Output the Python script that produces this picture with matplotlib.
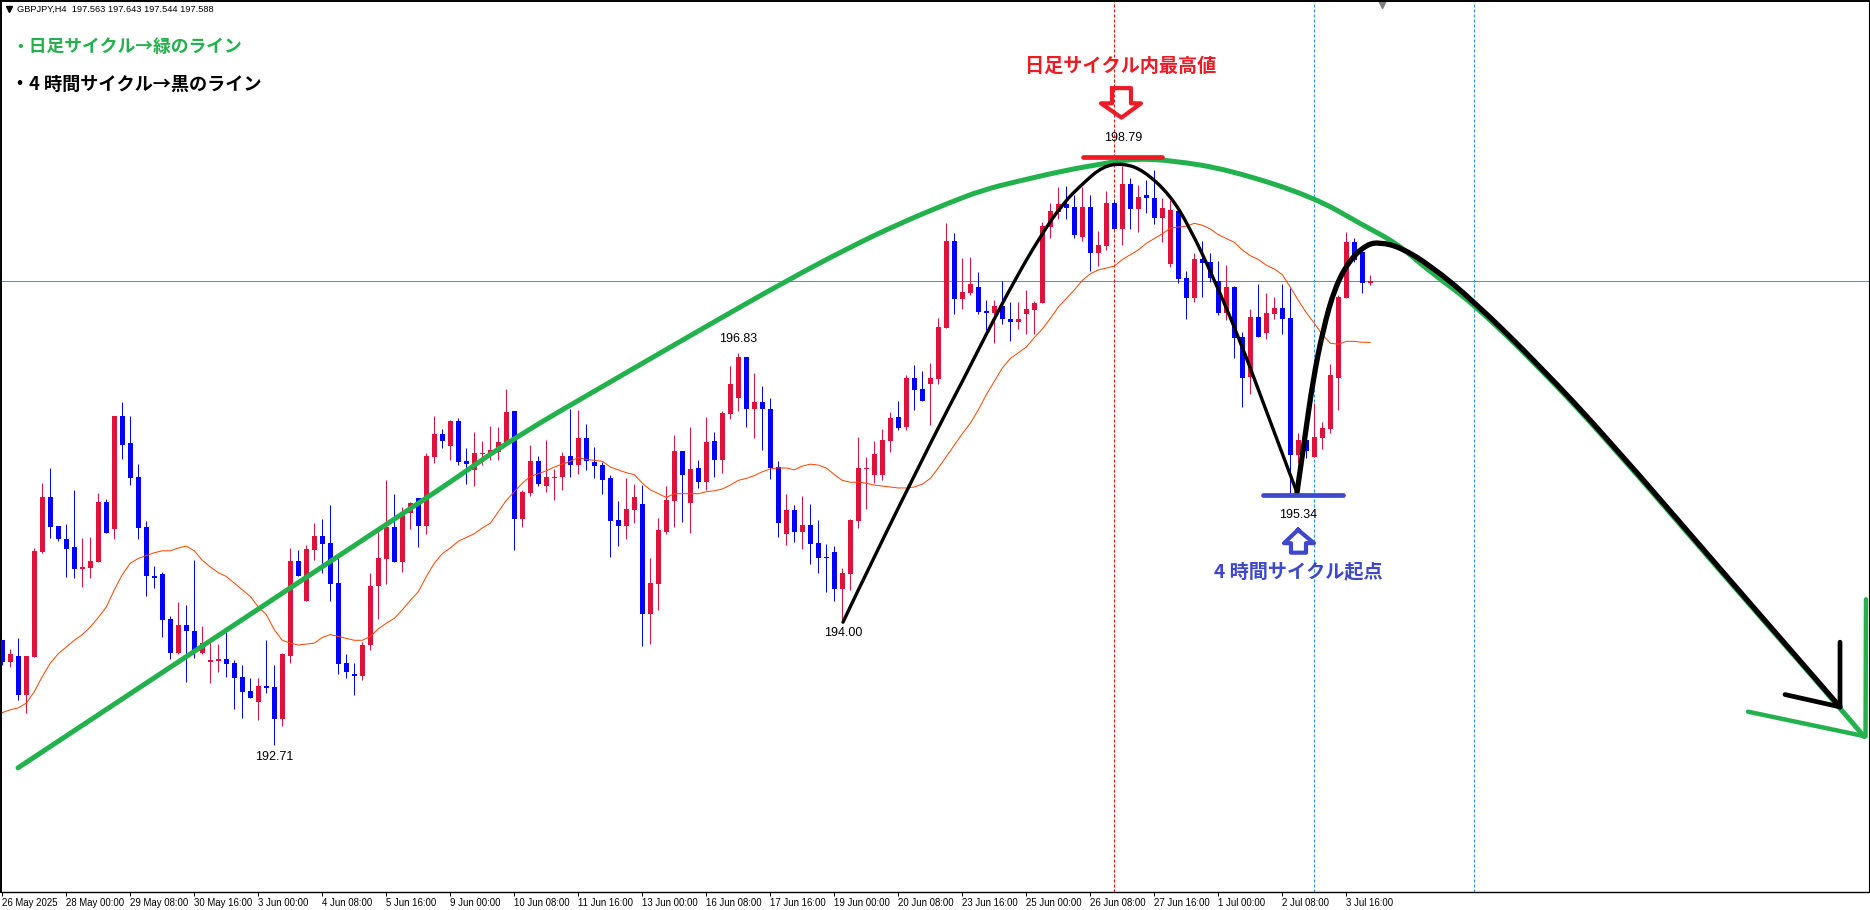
import numpy as np
import matplotlib
matplotlib.use("Agg")
from matplotlib import pyplot as plt
from matplotlib.path import Path
from matplotlib.patches import PathPatch

# GBPJPY H4 candles
opens = [193.81,193.58,193.65,193.23,193.63,194.74,195.31,195.01,194.87,194.79,194.56,194.57,194.63,195.26,194.98,196.17,
195.88,195.52,195.00,194.49,194.51,194.03,193.68,193.97,193.91,193.68,193.58,193.59,193.61,193.57,193.42,193.28,
193.16,193.33,193.32,192.98,193.65,194.64,194.22,194.76,194.91,194.83,194.41,193.57,193.46,193.43,193.76,194.38,
194.66,195.00,194.63,195.15,195.30,195.01,195.74,195.98,195.85,196.11,195.69,195.60,195.77,195.77,195.79,195.88,
196.22,195.08,195.36,195.69,195.43,195.51,195.52,195.75,195.65,195.94,195.68,195.65,195.51,195.07,195.01,195.18,
195.24,194.09,194.40,194.95,195.27,195.80,195.25,195.62,195.47,195.90,195.70,196.19,196.35,196.79,196.24,196.31,
196.24,195.63,194.93,195.18,194.95,195.02,194.83,194.68,194.74,194.35,194.51,195.06,195.61,195.55,195.55,195.90,
196.16,196.05,196.56,196.45,196.50,196.55,197.09,198.00,197.40,197.46,197.52,197.27,197.25,197.32,197.19,197.15,
197.24,197.28,197.35,198.15,198.31,198.39,198.36,198.05,198.36,197.88,197.95,198.40,198.13,198.60,198.34,198.49,
198.46,198.25,197.76,198.32,197.62,197.41,197.81,197.78,197.58,197.25,197.52,197.00,196.58,197.21,197.04,197.24,
197.30,197.20,195.76,195.91,195.74,195.93,196.03,196.57,197.41,197.99,197.89,197.563]
highs = [193.81,193.72,193.83,193.65,194.78,195.46,195.62,195.01,195.03,195.39,194.88,194.89,195.36,195.29,196.17,196.31,
196.17,195.66,195.06,194.59,194.53,194.07,194.21,194.18,194.65,193.96,193.81,193.77,193.92,193.60,193.55,193.41,
193.41,193.81,193.55,193.68,194.78,194.76,194.81,195.04,195.08,195.23,194.69,193.67,193.57,193.79,194.52,194.97,
195.49,195.35,195.21,195.26,195.30,195.78,196.17,196.03,196.12,196.14,195.83,196.00,195.90,196.06,196.05,196.45,
196.22,195.39,195.86,195.75,195.91,195.61,195.79,196.24,196.23,196.08,195.84,195.68,195.55,195.27,195.51,195.45,
195.44,194.67,195.09,195.43,195.97,195.80,196.05,195.70,196.16,196.00,196.22,196.69,196.83,196.79,196.62,196.48,
196.36,195.69,195.35,195.23,195.33,195.24,195.07,194.82,194.80,194.57,195.08,195.95,195.73,195.90,196.03,196.21,
196.32,196.60,196.70,196.64,196.72,197.20,198.19,198.09,197.83,197.84,197.68,197.38,197.38,197.58,197.36,197.36,
197.49,197.37,198.20,198.40,198.57,198.58,198.49,198.57,198.49,198.11,198.53,198.44,198.79,198.67,198.59,198.64,
198.75,198.46,198.43,198.36,197.69,197.88,198.00,197.88,197.79,197.75,197.53,197.05,197.29,197.55,197.46,197.42,
197.55,197.51,195.99,195.98,196.30,196.10,196.71,197.44,198.10,198.04,197.91,197.643]
lows = [193.55,193.53,193.18,193.05,193.63,194.73,194.88,194.85,194.47,194.46,194.37,194.46,194.63,194.94,194.87,195.71,
195.44,194.87,194.27,194.36,193.84,193.61,193.67,193.37,193.62,193.67,193.36,193.48,193.42,193.09,192.99,193.20,
192.97,193.26,192.71,192.91,193.57,194.49,194.22,194.65,194.52,194.22,193.46,193.41,193.23,193.39,193.71,194.03,
194.40,194.63,194.53,194.98,194.79,194.93,195.67,195.83,195.70,195.65,195.45,195.43,195.65,195.70,195.70,195.88,
194.76,195.00,195.33,195.43,195.37,195.28,195.39,195.52,195.56,195.60,195.51,195.35,194.69,194.80,194.87,195.04,
193.75,193.77,194.13,194.93,195.00,195.05,194.94,195.41,195.39,195.53,195.57,196.13,196.22,196.05,195.94,195.81,
195.50,194.89,194.81,194.84,194.77,194.61,194.52,194.32,194.22,194.00,194.34,194.99,195.19,195.46,195.49,195.79,
196.02,196.02,196.23,196.32,196.07,196.50,197.09,197.24,197.29,197.44,197.24,197.07,196.93,197.13,196.95,197.08,
197.03,197.03,197.35,198.04,198.23,198.24,198.04,198.00,197.69,197.74,197.91,198.13,197.96,198.13,198.10,198.30,
198.18,197.99,197.73,197.56,197.19,197.36,197.42,197.57,197.23,197.17,196.77,196.26,196.40,197.00,196.97,197.18,
197.03,195.34,195.67,195.72,195.74,195.82,195.99,196.23,197.41,197.78,197.46,197.544]
closes = [193.58,193.67,193.23,193.64,194.75,195.31,195.00,194.87,194.77,194.56,194.58,194.64,195.26,194.94,196.17,195.86,
195.51,194.99,194.48,194.46,194.02,193.68,193.97,193.91,193.71,193.78,193.60,193.61,193.56,193.41,193.27,193.20,
193.33,193.31,192.98,193.67,194.64,194.49,194.77,194.91,194.82,194.40,193.56,193.48,193.43,193.76,194.38,194.67,
195.00,194.63,195.15,195.25,195.01,195.75,195.98,195.90,196.11,195.68,195.66,195.78,195.78,195.81,195.89,196.21,
195.08,195.37,195.69,195.45,195.52,195.53,195.75,195.65,195.94,195.69,195.64,195.49,195.06,195.01,195.19,195.31,
194.09,194.41,194.97,195.28,195.80,195.55,195.61,195.47,195.89,195.70,196.20,196.50,196.79,196.24,196.31,196.24,
195.62,195.04,195.18,194.95,195.02,194.82,194.67,194.67,194.35,194.52,195.07,195.62,195.62,195.77,195.91,196.14,
196.04,196.56,196.44,196.32,196.56,197.10,198.00,197.40,197.47,197.55,197.26,197.25,197.32,197.18,197.15,197.19,
197.29,197.35,198.16,198.32,198.39,198.35,198.07,198.36,197.88,197.96,198.40,198.13,198.60,198.34,198.47,198.46,
198.25,198.35,198.33,197.61,197.41,197.81,197.77,197.62,197.25,197.52,196.99,196.57,197.21,197.00,197.25,197.30,
197.19,195.76,195.91,195.80,195.95,196.04,196.60,197.42,197.99,197.80,197.56,197.588]

# orange moving average, one value per bar
ma = [193.05,193.08,193.10,193.15,193.27,193.43,193.57,193.67,193.74,193.81,193.87,193.95,194.05,194.16,194.34,194.50,
194.62,194.67,194.70,194.73,194.75,194.75,194.78,194.80,194.75,194.65,194.58,194.52,194.48,194.41,194.34,194.27,
194.16,194.08,193.92,193.81,193.78,193.76,193.77,193.78,193.84,193.87,193.85,193.83,193.81,193.81,193.85,193.93,
193.99,194.04,194.13,194.23,194.32,194.48,194.62,194.72,194.78,194.85,194.89,194.93,194.99,195.04,195.16,195.28,
195.37,195.46,195.53,195.56,195.59,195.63,195.66,195.69,195.73,195.71,195.70,195.69,195.63,195.60,195.57,195.55,
195.46,195.39,195.35,195.31,195.35,195.35,195.35,195.35,195.37,195.38,195.40,195.44,195.49,195.51,195.54,195.58,
195.61,195.62,195.62,195.60,195.64,195.66,195.65,195.62,195.55,195.49,195.47,195.47,195.46,195.44,195.43,195.42,
195.41,195.41,195.42,195.45,195.51,195.62,195.74,195.86,195.98,196.09,196.23,196.39,196.53,196.67,196.77,196.83,
196.89,196.99,197.08,197.19,197.31,197.40,197.49,197.59,197.66,197.70,197.72,197.74,197.81,197.86,197.91,197.98,
198.03,198.08,198.14,198.15,198.16,198.19,198.17,198.13,198.07,198.03,197.99,197.91,197.85,197.81,197.75,197.71,
197.65,197.52,197.38,197.25,197.14,197.02,196.93,196.92,196.95,196.95,196.94,196.94]

time_labels = ["26 May 2025","28 May 00:00","29 May 08:00","30 May 16:00","3 Jun 00:00","4 Jun 08:00","5 Jun 16:00",
"9 Jun 00:00","10 Jun 08:00","11 Jun 16:00","13 Jun 00:00","16 Jun 08:00","17 Jun 16:00","19 Jun 00:00","20 Jun 08:00",
"23 Jun 16:00","25 Jun 00:00","26 Jun 08:00","27 Jun 16:00","1 Jul 00:00","2 Jul 08:00","3 Jul 16:00"]

bid = 197.588
red_vline = 139
blue_vlines = [164, 184]

# hand drawn lines on the chart: bar number, price
green_x = [1.96,52.2,55.96,63.83,76.33,87.21,98.08,105.96,112.21,118.46,122.58,126.83,133.08,137.21,141.33,146.33,
153.46,163.83,170.08,174.33,178.46,183.83,192.21,200.96,214.71,229.71,232.71]
green_y = [192.47,195.26,195.47,195.93,196.54,197.07,197.59,197.94,198.19,198.41,198.54,198.63,198.75,198.81,198.87,198.85,
198.75,198.47,198.17,197.98,197.68,197.35,196.67,195.88,194.54,193.10,192.80]
green_head_x = [218.21,232.9,232.96]
green_head_y = [193.06,192.80,194.24]

black1_x = [105.08,108.46,116.83,120.08,123.08,126.33,129.71,132.58,135.08,137.58,140.08,142.58,145.96,148.46,151.33,154.71,158.08,161.83]
black1_y = [194.00,194.60,196.02,196.54,197.04,197.56,198.05,198.40,198.61,198.79,198.82,198.75,198.49,198.14,197.63,196.96,196.20,195.36]
black2_x = [161.83,162.83,163.83,165.08,166.58,168.46,170.58,172.21,174.71,178.46,183.83,192.21,200.96,214.71,229.71]
black2_y = [195.36,195.95,196.54,197.07,197.52,197.81,197.97,197.99,197.94,197.75,197.38,196.69,195.90,194.56,193.11]
black_head_x = [222.83,229.71,229.71]
black_head_y = [193.24,193.11,193.79]

red_bar_x = [135.1,144.96]
red_bar_y = [198.89,198.89]
blue_bar_x = [157.6,167.6]
blue_bar_y = [195.34,195.34]

red_arrow_x = [138.71,141.08,141.08,142.33,139.9,137.33,138.71,138.71]
red_arrow_y = [199.61,199.61,199.45,199.45,199.30,199.45,199.45,199.61]
blue_arrow_x = [161.96,163.96,162.96,162.96,161.08,161.08,160.21,161.96]
blue_arrow_y = [194.97,194.83,194.83,194.73,194.73,194.83,194.83,194.97]

W, H = 1870, 910
RED_C, BLUE_C = "#DC143C", "#0000FF"
GREEN, MARK_RED, MARK_BLUE = "#22B14C", "#ED1C24", "#3F48CC"
PX = 0.72  # one pixel in points at dpi 100
CJK = ["Noto Sans CJK JP", "DejaVu Sans"]
LATIN = ["Liberation Sans", "DejaVu Sans"]


def curve(ax, xs, ys, **kw):
    # the read points act as control points of a quadratic bezier chain, so no kinks
    pts = list(zip(xs, ys))
    verts = [pts[0]]
    codes = [Path.MOVETO]
    for i in range(1, len(pts) - 1):
        end = pts[i + 1] if i == len(pts) - 2 else ((pts[i][0] + pts[i + 1][0]) / 2, (pts[i][1] + pts[i + 1][1]) / 2)
        verts += [pts[i], end]
        codes += [Path.CURVE3, Path.CURVE3]
    ax.add_patch(PathPatch(Path(verts, codes), fill=False, capstyle="round", joinstyle="round", **kw))


fig = plt.figure(figsize=(W / 100, H / 100), dpi=100, facecolor="white")
ax = fig.add_axes([1 / W, (H - 892) / H, 1868 / W, 891 / H])
ax.set_xlim((1 - 2.33) / 8, (1869 - 2.33) / 8)
ax.set_ylim(192.71 + (745 - 892) / 95.2, 192.71 + (745 - 1) / 95.2)

bars = np.arange(len(opens))
o, h, l, c = map(np.array, (opens, highs, lows, closes))
up = c >= o
cols = np.where(up, RED_C, BLUE_C)

ax.hlines(bid, 0, 1, transform=ax.get_yaxis_transform(), color="#778899", lw=PX, zorder=1)
ax.vlines(red_vline, 0, 1, transform=ax.get_xaxis_transform(), color="#FF0000", lw=PX, linestyles=(0, (3, 2)), zorder=1)
ax.vlines(blue_vlines, 0, 1, transform=ax.get_xaxis_transform(), color="#1E90FF", lw=PX, linestyles=(0, (3, 2)), zorder=1)

ax.vlines(bars, l, h, colors=cols, lw=PX, zorder=2)
ax.bar(bars, np.abs(c - o), bottom=np.minimum(o, c), width=5 / 8, color=cols, lw=0, zorder=3)
ax.plot(bars, ma, color="#FF4500", lw=PX, zorder=4)

curve(ax, green_x, green_y, edgecolor=GREEN, lw=3.6, zorder=5)
ax.plot(green_head_x, green_head_y, color=GREEN, lw=3.2, solid_capstyle="round", solid_joinstyle="round", zorder=5)
curve(ax, black1_x, black1_y, edgecolor="black", lw=2.4, zorder=6)
curve(ax, black2_x, black2_y, edgecolor="black", lw=3.8, zorder=6)
ax.plot(black_head_x, black_head_y, color="black", lw=3.4, solid_capstyle="round", solid_joinstyle="round", zorder=6)

ax.plot(red_bar_x, red_bar_y, color=MARK_RED, lw=3.4, solid_capstyle="round", zorder=7)
ax.plot(blue_bar_x, blue_bar_y, color=MARK_BLUE, lw=3.4, solid_capstyle="round", zorder=7)
ax.plot(red_arrow_x, red_arrow_y, color=MARK_RED, lw=3.0, solid_joinstyle="round", zorder=7)
ax.plot(blue_arrow_x, blue_arrow_y, color=MARK_BLUE, lw=3.0, solid_joinstyle="round", zorder=7)

ax.set_yticks([])
ax.set_xticks(bars[::8][:len(time_labels)])
ax.set_xticklabels(time_labels, family=LATIN, fontsize=6.9, ha="left", color="black")
ax.tick_params(axis="x", length=2.9, width=PX, pad=1.5, color="black")

for side, lw in (("left", 1.4), ("top", 1.4), ("bottom", 1.0), ("right", 0.8)):
    ax.spines[side].set_linewidth(lw)
    ax.spines[side].set_color("black")


def put(x, y, s, **kw):
    # x, y in pixels from the top left corner
    kw.setdefault("va", "center")
    fig.text(x / W, 1 - y / H, s, zorder=10, **kw)


# little triangles at the top of the window
ax.plot([8.7 / W], [1 - 9 / H], marker="v", ms=5, color="black", transform=fig.transFigure, clip_on=False)
ax.plot([1382 / W], [1 - 2 / H], marker="v", ms=8, color="#808080", transform=fig.transFigure, clip_on=False)

put(17, 9, "GBPJPY,H4  197.563 197.643 197.544 197.588", family=LATIN, fontsize=6.7)

put(11, 47, "・日足サイクル→緑のライン", family=CJK, fontsize=12.8, weight="bold", color=GREEN)
put(11, 84, "・4 時間サイクル→黒のライン", family=CJK, fontsize=13.1, weight="bold", color="black")
put(1121, 66, "日足サイクル内最高値", family=CJK, fontsize=13.8, weight="bold", color=MARK_RED, ha="center")
put(1298, 572, "4 時間サイクル起点", family=CJK, fontsize=13.8, weight="bold", color=MARK_BLUE, ha="center")

put(1123, 138, "198.79", family=LATIN, fontsize=9, ha="center")
put(738, 339, "196.83", family=LATIN, fontsize=9, ha="center")
put(274, 757, "192.71", family=LATIN, fontsize=9, ha="center")
put(843, 633, "194.00", family=LATIN, fontsize=9, ha="center")
put(1298, 515, "195.34", family=LATIN, fontsize=9, ha="center")

fig.savefig("out.png", dpi=100, facecolor="white")
